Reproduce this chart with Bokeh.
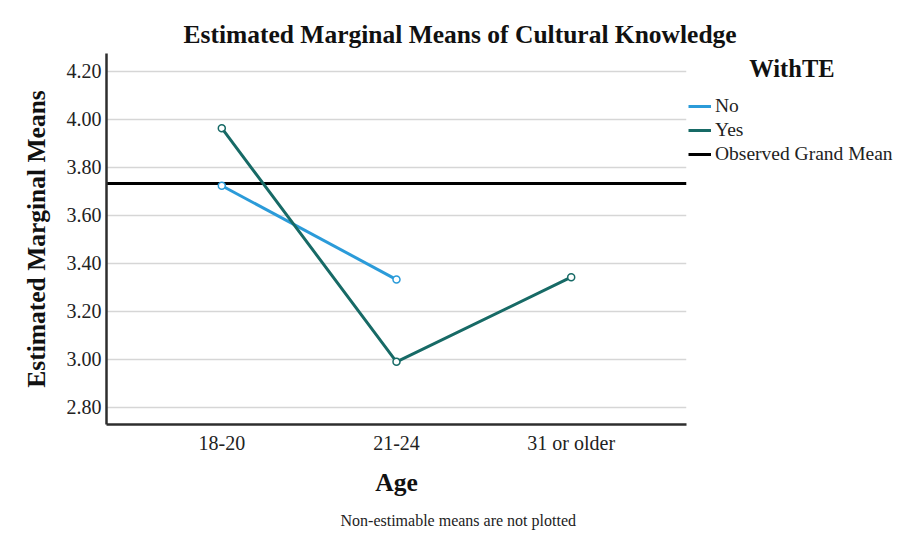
from bokeh.plotting import figure
from bokeh.models import (FactorRange, Range1d, FixedTicker, Legend, LegendItem,
                          Title, CustomJSTickFormatter)
from bokeh.embed import file_html
from bokeh.resources import INLINE

# ---- data ----
age_groups = ["18-20", "21-24", "31 or older"]
no_means = [3.724, 3.333, float("nan")]   # "31 or older" not estimable
yes_means = [3.964, 2.990, 3.343]
grand_mean = [3.733]
y_ticks = [2.80, 3.00, 3.20, 3.40, 3.60, 3.80, 4.00, 4.20]

title_text = "Estimated Marginal Means of Cultural Knowledge"
legend_title = "WithTE"
footnote = "Non-estimable means are not plotted"

FONT = "Liberation Serif"
NO_COLOR = "#2b9bd9"
YES_COLOR = "#176a66"

p = figure(frame_width=580, frame_height=371, output_backend="svg",
           toolbar_location=None,
           x_range=FactorRange(factors=age_groups, range_padding=0.16,
                               range_padding_units="absolute"),
           y_range=Range1d(2.729, 4.275),
           min_border_left=106, min_border_right=0,
           min_border_top=53, min_border_bottom=95)
p.outline_line_color = None
p.background_fill_color = "white"
p.border_fill_color = "white"

# title
p.title.text = title_text
p.title.align = "left"
p.title.offset = 77
p.title.text_font = FONT
p.title.text_font_style = "bold"
p.title.text_font_size = "25.5px"
p.title.text_color = "#111111"

# grid
p.xgrid.grid_line_color = None
p.ygrid.grid_line_color = "#d6d6d6"
p.ygrid.grid_line_width = 1.6
p.yaxis.ticker = FixedTicker(ticks=y_ticks)

# axes
for ax in (p.xaxis, p.yaxis):
    ax.axis_line_color = "#2e2e2e"
    ax.axis_line_width = 2.5
    ax.major_tick_line_color = None
    ax.minor_tick_line_color = None
    ax.major_tick_out = 0
    ax.major_tick_in = 0
    ax.major_label_text_font = FONT
    ax.major_label_text_font_size = "20px"
    ax.major_label_text_color = "#222222"
    ax.axis_label_text_font = FONT
    ax.axis_label_text_font_style = "bold"
    ax.axis_label_text_font_size = "25.5px"
    ax.axis_label_text_color = "#111111"

p.yaxis.formatter = CustomJSTickFormatter(code="return tick.toFixed(2);")
p.yaxis.major_label_standoff = 5
p.yaxis.axis_label = "Estimated Marginal Means"
p.yaxis.axis_label_standoff = 13
p.xaxis.major_label_standoff = 7
p.xaxis.axis_label = "Age"
p.xaxis.axis_label_standoff = 11

# footnote below the axis
p.add_layout(Title(text=footnote, align="left", offset=234, text_font=FONT,
                   text_font_size="16px", text_font_style="normal",
                   text_color="#222222", standoff=20), "below")

# grand mean
gm_r = p.hspan(y=grand_mean, line_color="black", line_width=3)

# series
no_l = p.line(age_groups, no_means, line_color=NO_COLOR, line_width=3)
p.scatter(age_groups, no_means, size=7, line_color=NO_COLOR, fill_color="white",
          line_width=1.5)
yes_l = p.line(age_groups, yes_means, line_color=YES_COLOR, line_width=3)
p.scatter(age_groups, yes_means, size=7, line_color=YES_COLOR, fill_color="white",
          line_width=1.5)

# legend heading is centred over the entries (non-breaking spaces as indent)
legend = Legend(items=[LegendItem(label="No", renderers=[no_l]),
                       LegendItem(label="Yes", renderers=[yes_l]),
                       LegendItem(label="Observed Grand Mean", renderers=[gm_r])],
                location="top_left", orientation="vertical",
                title="\u00a0" * 10 + legend_title, title_text_font=FONT,
                title_text_font_style="bold", title_text_font_size="24.5px",
                title_text_color="#111111",
                title_standoff=12,
                border_line_color=None, background_fill_alpha=0,
                padding=2, margin=2, spacing=2,
                glyph_width=23, glyph_height=20, label_height=20,
                label_standoff=4,
                label_text_font=FONT, label_text_font_size="19.5px",
                label_text_color="#222222")
p.add_layout(legend, "right")

open("out.html", "w").write(file_html(p, INLINE))
